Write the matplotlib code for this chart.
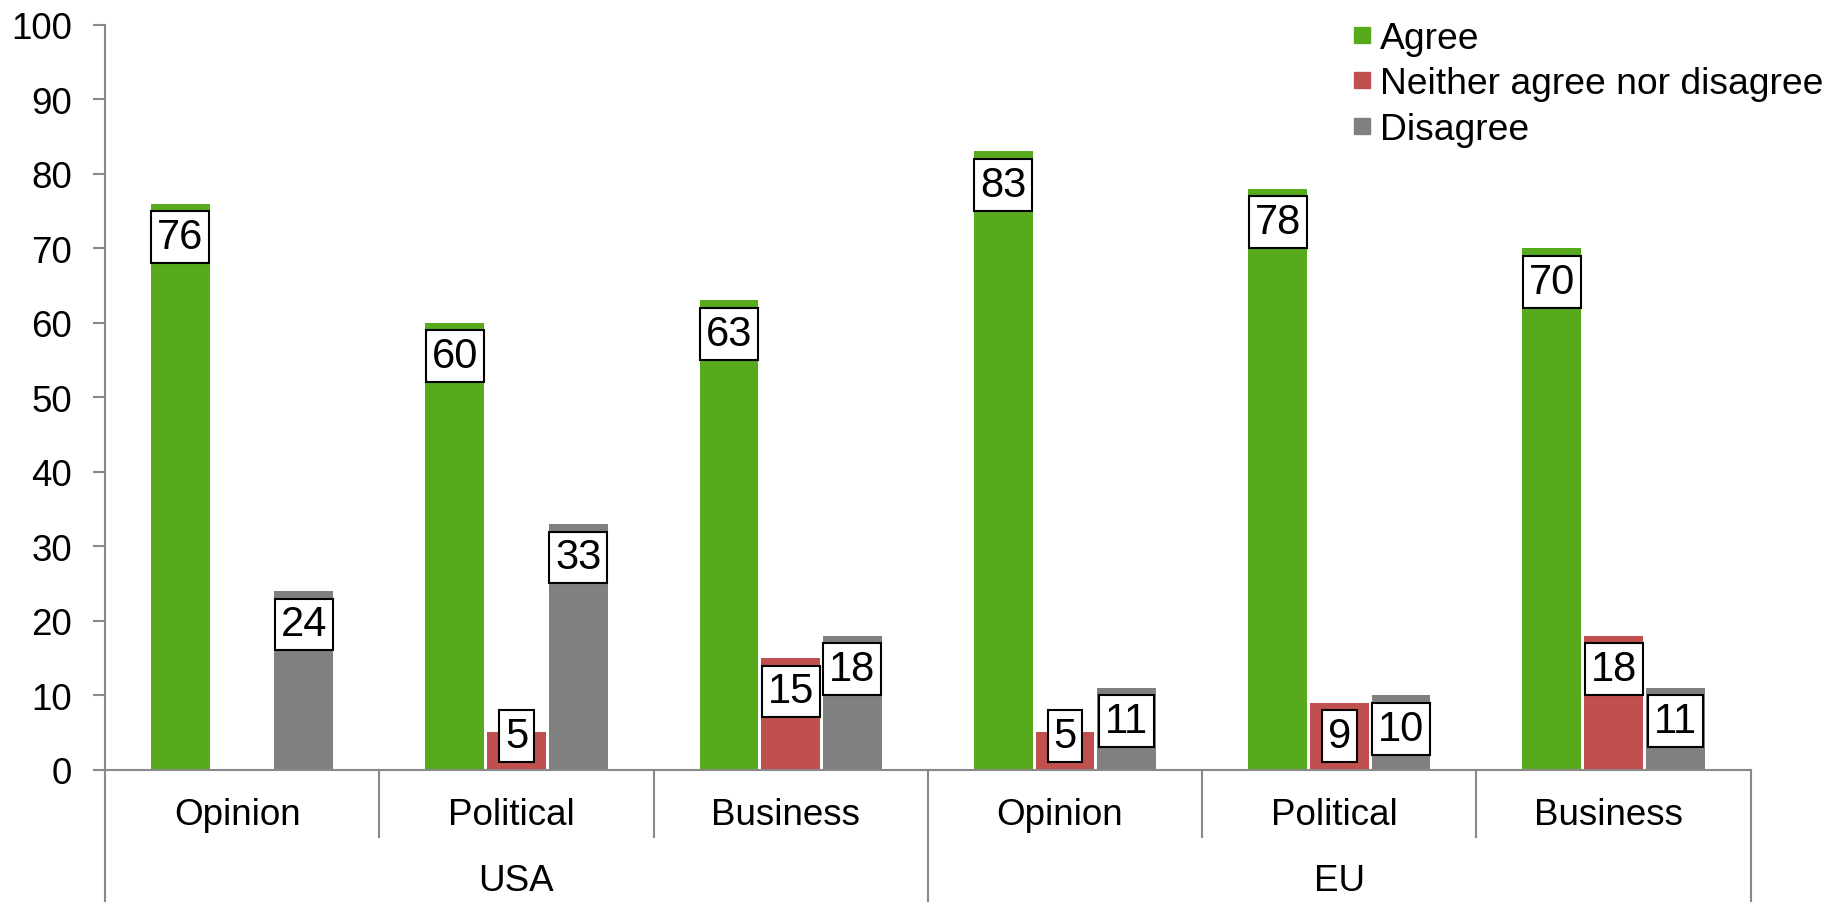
import matplotlib.pyplot as plt
from matplotlib.lines import Line2D
from matplotlib import transforms

# survey results, percent
categories = ["Opinion", "Political", "Business", "Opinion", "Political", "Business"]
groups = ["USA", "EU"]
agree = [76, 60, 63, 83, 78, 70]
neither = [0, 5, 15, 5, 9, 18]
disagree = [24, 33, 18, 11, 10, 11]
series_names = ["Agree", "Neither agree nor disagree", "Disagree"]
colors = ["#56AA1C", "#C0504D", "#808080"]

plt.rcParams['font.family'] = ['Liberation Sans', 'DejaVu Sans']

fig = plt.figure(figsize=(18.31, 9.03), dpi=100)
ax = fig.add_axes([105 / 1831, 132.3 / 903, 1645.7 / 1831, 745 / 903])

x = list(range(len(categories)))
width = 0.215
step = 0.225
axis_col = "#898989"

for k, (vals, col) in enumerate(zip([agree, neither, disagree], colors)):
    xs = [i + (k - 1) * step for i in x]
    ax.bar(xs, vals, width=width, color=col, zorder=2)
    for xi, v in zip(xs, vals):
        if v == 0:
            continue
        # boxed value just inside the top of the bar
        ax.text(xi, max(v - 4.5, 4.5), str(v), ha='center', va='center',
                fontsize=30, zorder=3,
                bbox=dict(boxstyle='square,pad=0.14', fc='white', ec='black', lw=1.5))

ax.set_xlim(-0.5, len(categories) - 0.5)
ax.set_ylim(0, 100)
ax.set_yticks(range(0, 101, 10))
ax.set_xticks([])
ax.tick_params(axis='y', direction='out', length=8.5, width=1.5, color=axis_col,
               labelsize=26.5, pad=15)

for s in ['top', 'right']:
    ax.spines[s].set_visible(False)
for s in ['left', 'bottom']:
    ax.spines[s].set_color(axis_col)
    ax.spines[s].set_linewidth(1.5)

# two-level category axis
trans = transforms.blended_transform_factory(ax.transData, ax.transAxes)
shift = trans + transforms.ScaledTranslation(-0.05, 0, fig.dpi_scale_trans)
for i, c in enumerate(categories):
    ax.text(i, -0.0595, c, transform=shift, ha='center', va='center', fontsize=26.5)
for g, name in enumerate(groups):
    ax.text(g * 3 + 1, -0.149, name, transform=trans, ha='center', va='center', fontsize=26.5)

for b in [0.5, 1.5, 3.5, 4.5]:
    ax.plot([b, b], [0, -0.090], transform=trans, color=axis_col, lw=1.5, clip_on=False)
for b in [-0.5, 2.5, 5.5]:
    ax.plot([b, b], [0, -0.18], transform=trans, color=axis_col, lw=1.5, clip_on=False)

handles = [Line2D([], [], marker='s', linestyle='none', markersize=12,
                  markerfacecolor=c, markeredgecolor=c) for c in colors]
ax.legend(handles, series_names, loc='upper left', bbox_to_anchor=(1329 / 1831, 1 - 3 / 903),
          bbox_transform=fig.transFigure, frameon=False, fontsize=26.8,
          handletextpad=0.06, labelspacing=0.29, borderpad=0, handlelength=0.8)

fig.savefig("out.png", dpi=100)
